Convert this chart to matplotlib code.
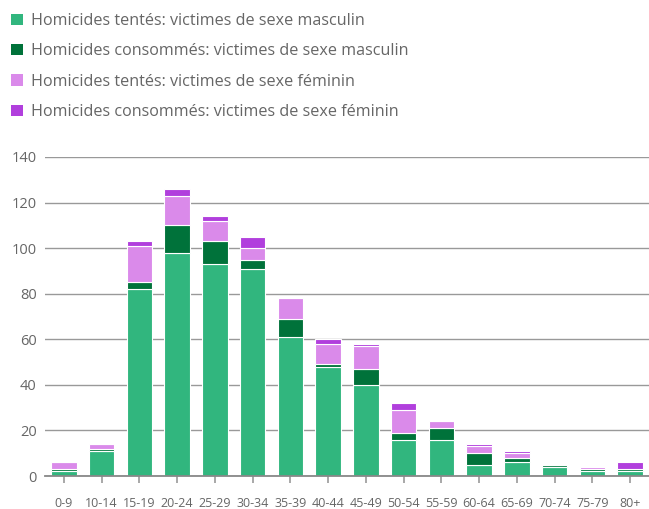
import matplotlib
matplotlib.use("Agg")
import matplotlib.pyplot as plt
import numpy as np

plt.rcParams['font.family'] = ['Open Sans', 'DejaVu Sans']

categories = ["0-9", "10-14", "15-19", "20-24", "25-29", "30-34", "35-39", "40-44",
              "45-49", "50-54", "55-59", "60-64", "65-69", "70-74", "75-79", "80+"]
tentes_masc = [2, 11, 82, 98, 93, 91, 61, 48, 40, 16, 16, 5, 6, 4, 2, 2]
consommes_masc = [1, 1, 3, 12, 10, 4, 8, 1, 7, 3, 5, 5, 2, 1, 1, 1]
tentes_fem = [3, 2, 16, 13, 9, 5, 9, 9, 10, 10, 3, 3, 2, 0, 1, 0]
consommes_fem = [0, 0, 2, 3, 2, 5, 0, 2, 1, 3, 0, 1, 1, 0, 0, 3]

series_labels = ["Homicides tentés: victimes de sexe masculin",
                 "Homicides consommés: victimes de sexe masculin",
                 "Homicides tentés: victimes de sexe féminin",
                 "Homicides consommés: victimes de sexe féminin"]
y_ticks = [0, 20, 40, 60, 80, 100, 120, 140]

colors = ["#31b67e", "#00723a", "#da8aea", "#b13fdd"]

W, H = 649, 509
fig = plt.figure(figsize=(W / 100, H / 100), dpi=100)
ax = fig.add_axes([45 / W, (H - 476) / H, 604 / W, (476 - 157) / H])

x = np.arange(len(categories))
bottom = np.zeros(len(categories))
handles = []
for vals, col, lab in zip([tentes_masc, consommes_masc, tentes_fem, consommes_fem], colors, series_labels):
    v = np.array(vals, dtype=float)
    bc = ax.bar(x, v, bottom=bottom, width=0.68, color=col, edgecolor="white",
                linewidth=0.8, label=lab, zorder=3)
    handles.append(bc)
    bottom += v

ax.set_xlim(-0.5, len(categories) - 0.5)
ax.set_ylim(0, 140)
ax.set_yticks(y_ticks)
ax.set_yticklabels([str(t) for t in y_ticks])
ax.set_xticks(x)
ax.set_xticklabels(categories)

ax.grid(axis="y", color="#999999", linewidth=1.0, zorder=0)
ax.set_axisbelow(True)
for s in ["top", "right", "left"]:
    ax.spines[s].set_visible(False)
ax.spines["bottom"].set_color("#888888")
ax.spines["bottom"].set_linewidth(1.3)
ax.spines["bottom"].set_zorder(4)

ax.tick_params(axis="y", length=0, pad=6, labelsize=10.5, labelcolor="#666666")
ax.tick_params(axis="x", length=5, width=1.2, color="#999999", pad=10,
               labelsize=9, labelcolor="#666666")

leg = fig.legend(handles=handles, labels=series_labels, loc="upper left",
                 bbox_to_anchor=(0 / W, 1 - 2 / H), frameon=False,
                 handlelength=0.7, handleheight=0.7, handletextpad=0.55,
                 labelspacing=0.88, fontsize=11.6, labelcolor="#666666",
                 borderaxespad=0.3)
for h in leg.legend_handles:
    h.set_edgecolor("none")

fig.savefig("out.png", dpi=100)
